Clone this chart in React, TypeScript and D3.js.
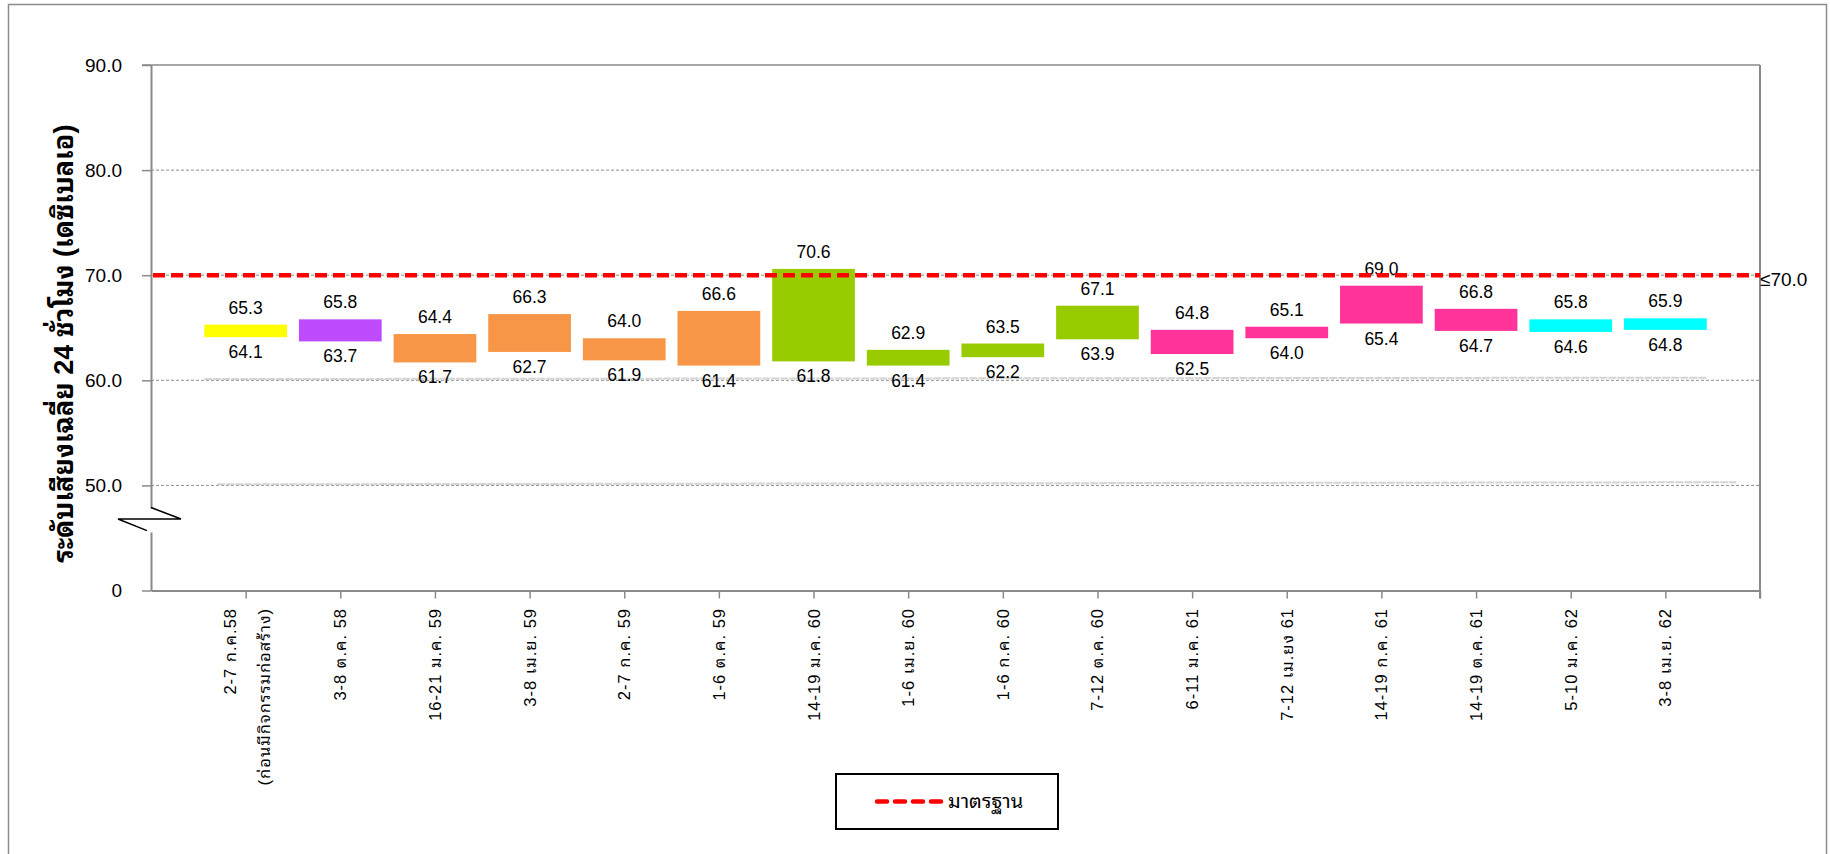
import React, { useRef, useEffect } from "react";
import * as d3 from "d3";

// ช่วงตรวจวัด (แกน X)
const categories: string[][] = [
  ["2-7 ก.ค.58", "(ก่อนมีกิจกรรมก่อสร้าง)"],
  ["3-8 ต.ค. 58"],
  ["16-21  ม.ค. 59"],
  ["3-8 เม.ย. 59"],
  ["2-7 ก.ค. 59"],
  ["1-6 ต.ค. 59"],
  ["14-19 ม.ค. 60"],
  ["1-6 เม.ย. 60"],
  ["1-6 ก.ค. 60"],
  ["7-12 ต.ค. 60"],
  ["6-11 ม.ค. 61"],
  ["7-12 เม.ยง 61"],
  ["14-19 ก.ค. 61"],
  ["14-19 ต.ค. 61"],
  ["5-10 ม.ค. 62"],
  ["3-8 เม.ย. 62"],
];

// ค่าต่ำสุด / สูงสุด ของแต่ละช่วง (dBA)
const lowValues = [64.1, 63.7, 61.7, 62.7, 61.9, 61.4, 61.8, 61.4, 62.2, 63.9, 62.5, 64.0, 65.4, 64.7, 64.6, 64.8];
const highValues = [65.3, 65.8, 64.4, 66.3, 64.0, 66.6, 70.6, 62.9, 63.5, 67.1, 64.8, 65.1, 69.0, 66.8, 65.8, 65.9];
const barColors = [
  "#FFFF00", "#BF4BFF",
  "#F79646", "#F79646", "#F79646", "#F79646",
  "#99CC00", "#99CC00", "#99CC00", "#99CC00",
  "#FF3399", "#FF3399", "#FF3399", "#FF3399",
  "#00FFFF", "#00FFFF",
];

// แกน Y (มีการตัดแกน: 40 แสดงเป็น "0")
const yTickValues = [40, 50, 60, 70, 80, 90];
const yTickLabels = ["0", "50.0", "60.0", "70.0", "80.0", "90.0"];
const gridValues = [50, 60, 70, 80];
const standardValue = 70;
const standardLabel = "≤70.0";
const legendLabel = "มาตรฐาน";
const yTitle = "ระดับเสียงเฉลี่ย 24 ชั่วโมง (เดซิเบลเอ)";

const W = 1830;
const H = 854;
const NUM_FONT = "'Liberation Sans', Arial, sans-serif";
const THAI_FONT = "'Liberation Sans', 'Noto Sans Thai Looped', 'Noto Sans Thai', Tahoma, sans-serif";
const AXIS_COLOR = "#8a8a8a";

const App = () => {
  const ref = useRef<SVGSVGElement>(null);

  useEffect(() => {
    const svgEl = ref.current;
    if (!svgEl) return;
    d3.select(svgEl).selectChildren().remove();
    const svg = d3.select(svgEl);

    const left = 151, right = 1760, top = 65, bottom = 590.5;

    const x = d3.scaleLinear().domain([0, categories.length + 1]).range([left, right]);
    const y = d3.scaleLinear().domain([40, 90]).range([bottom, top]);
    const step = x(1) - x(0);
    const barW = step * 0.874;

    // Marco exterior
    svg.append("rect")
      .attr("x", 8.5).attr("y", 4.5)
      .attr("width", 1818).attr("height", 900)
      .attr("fill", "white")
      .attr("stroke", "#8c8c8c").attr("stroke-width", 1.5);

    // Rejilla punteada
    svg.append("g")
      .selectAll("line")
      .data(gridValues)
      .enter()
      .append("line")
      .attr("x1", left).attr("x2", right)
      .attr("y1", (d) => y(d)).attr("y2", (d) => y(d))
      .attr("stroke", "#8c8c8c").attr("stroke-width", 1)
      .attr("stroke-dasharray", "3,2");

    // líneas fantasma (gris claro) cerca de 60 y 50
    svg.append("line")
      .attr("x1", x(1) - barW / 2).attr("x2", x(categories.length) + barW / 2)
      .attr("y1", y(60.12)).attr("y2", y(60.25))
      .attr("stroke", "#d4d4d4").attr("stroke-width", 2).attr("stroke-dasharray", "8,1");
    svg.append("line")
      .attr("x1", x(0.7)).attr("x2", x(categories.length + 0.75))
      .attr("y1", y(50.1)).attr("y2", y(50.3))
      .attr("stroke", "#d4d4d4").attr("stroke-width", 2).attr("stroke-dasharray", "8,1");

    // Borde superior y derecho del área de trazado
    svg.append("line")
      .attr("x1", left - 9).attr("x2", right)
      .attr("y1", y(90)).attr("y2", y(90))
      .attr("stroke", AXIS_COLOR).attr("stroke-width", 1.5);
    svg.append("line")
      .attr("x1", right).attr("x2", right)
      .attr("y1", y(90)).attr("y2", bottom + 8)
      .attr("stroke", AXIS_COLOR).attr("stroke-width", 2);

    // Eje Y
    const yAxis = svg.append("g")
      .attr("transform", `translate(${left},0)`)
      .call(
        d3.axisLeft(y)
          .tickValues(yTickValues)
          .tickSize(9)
          .tickSizeOuter(0)
          .tickPadding(20)
          .tickFormat((_, i) => yTickLabels[i])
      );
    yAxis.select(".domain").attr("stroke", AXIS_COLOR).attr("stroke-width", 2);
    yAxis.selectAll(".tick line").attr("stroke", AXIS_COLOR).attr("stroke-width", 1.5);
    yAxis.selectAll(".tick text")
      .attr("fill", "#000")
      .style("font-family", NUM_FONT)
      .style("font-size", "19px");

    // Eje X
    const xTicks = d3.range(1, categories.length + 2);
    const xAxis = svg.append("g")
      .attr("transform", `translate(0,${bottom})`)
      .call(d3.axisBottom(x).tickValues(xTicks).tickSize(8).tickSizeOuter(0).tickFormat(() => ""));
    xAxis.select(".domain").attr("stroke", AXIS_COLOR).attr("stroke-width", 2);
    xAxis.selectAll(".tick line").attr("stroke", AXIS_COLOR).attr("stroke-width", 1.5);

    // Corte del eje
    svg.append("rect")
      .attr("x", left - 3).attr("y", y(47.8))
      .attr("width", 6).attr("height", 24)
      .attr("fill", "white");
    svg.append("path")
      .attr("d", `M${left},${y(47.9)} L${left + 30},${y(46.8)} L${left - 33},${y(46.8)} L${left - 4},${y(45.7)}`)
      .attr("fill", "none")
      .attr("stroke", "#000").attr("stroke-width", 1.5);

    // Etiquetas del eje X (rotadas)
    const xLabels = svg.append("g")
      .selectAll("g")
      .data(categories)
      .enter()
      .append("g")
      .attr("transform", (_, i) => `translate(${x(i + 1)},608) rotate(-90)`);
    xLabels.each(function (lines) {
      const g = d3.select(this);
      const offsets = lines.length === 1 ? [6] : [-10, 24];
      lines.forEach((t, j) => {
        g.append("text")
          .attr("x", 0)
          .attr("y", offsets[j])
          .attr("text-anchor", "end")
          .style("font-family", THAI_FONT)
          .style("font-size", "16.5px")
          .style("letter-spacing", "1px")
          .text(t);
      });
    });

    // Barras (rango bajo–alto)
    const bars = svg.append("g")
      .selectAll("g")
      .data(categories.map((c, i) => ({ i, lo: lowValues[i], hi: highValues[i], color: barColors[i] })))
      .enter()
      .append("g");

    bars.append("rect")
      .attr("x", (d) => x(d.i + 1) - barW / 2)
      .attr("y", (d) => y(d.hi))
      .attr("width", barW)
      .attr("height", (d) => y(d.lo) - y(d.hi))
      .attr("fill", (d) => d.color);

    bars.append("text")
      .attr("x", (d) => x(d.i + 1))
      .attr("y", (d) => y(d.hi) - 11)
      .attr("text-anchor", "middle")
      .style("font-family", NUM_FONT)
      .style("font-size", "17.5px")
      .text((d) => d.hi.toFixed(1));

    bars.append("text")
      .attr("x", (d) => x(d.i + 1))
      .attr("y", (d) => y(d.lo) + 21)
      .attr("text-anchor", "middle")
      .style("font-family", NUM_FONT)
      .style("font-size", "17.5px")
      .text((d) => d.lo.toFixed(1));

    // Línea de norma (70 dBA)
    svg.append("line")
      .attr("x1", left + 2).attr("x2", right)
      .attr("y1", y(standardValue)).attr("y2", y(standardValue))
      .attr("stroke", "#FF0000").attr("stroke-width", 4.5)
      .attr("stroke-dasharray", "12,6");

    svg.append("text")
      .attr("x", right)
      .attr("y", y(standardValue) + 11)
      .style("font-family", NUM_FONT)
      .style("font-size", "19px")
      .text(standardLabel);

    // Título eje Y (girado)
    svg.append("text")
      .attr("transform", `translate(73,${(top + bottom) / 2 + 16}) rotate(-90)`)
      .attr("text-anchor", "middle")
      .style("font-family", THAI_FONT)
      .style("font-size", "27px")
      .style("font-weight", "bold")
      .text(yTitle);

    // Leyenda
    const legend = svg.append("g").attr("transform", "translate(836,774)");
    legend.append("rect")
      .attr("width", 222).attr("height", 55)
      .attr("fill", "white")
      .attr("stroke", "#000").attr("stroke-width", 2);
    legend.append("line")
      .attr("x1", 41).attr("x2", 105)
      .attr("y1", 27.5).attr("y2", 27.5)
      .attr("stroke", "#FF0000").attr("stroke-width", 4.5)
      .attr("stroke-linecap", "round")
      .attr("stroke-dasharray", "10,8");
    legend.append("text")
      .attr("x", 112).attr("y", 34)
      .style("font-family", THAI_FONT)
      .style("font-size", "20px")
      .text(legendLabel);
  }, []);

  return (
    <svg
      ref={ref}
      width={W}
      height={H}
      style={{ position: "absolute", left: 0, top: 0, background: "white" }}
    />
  );
};

export default App;
